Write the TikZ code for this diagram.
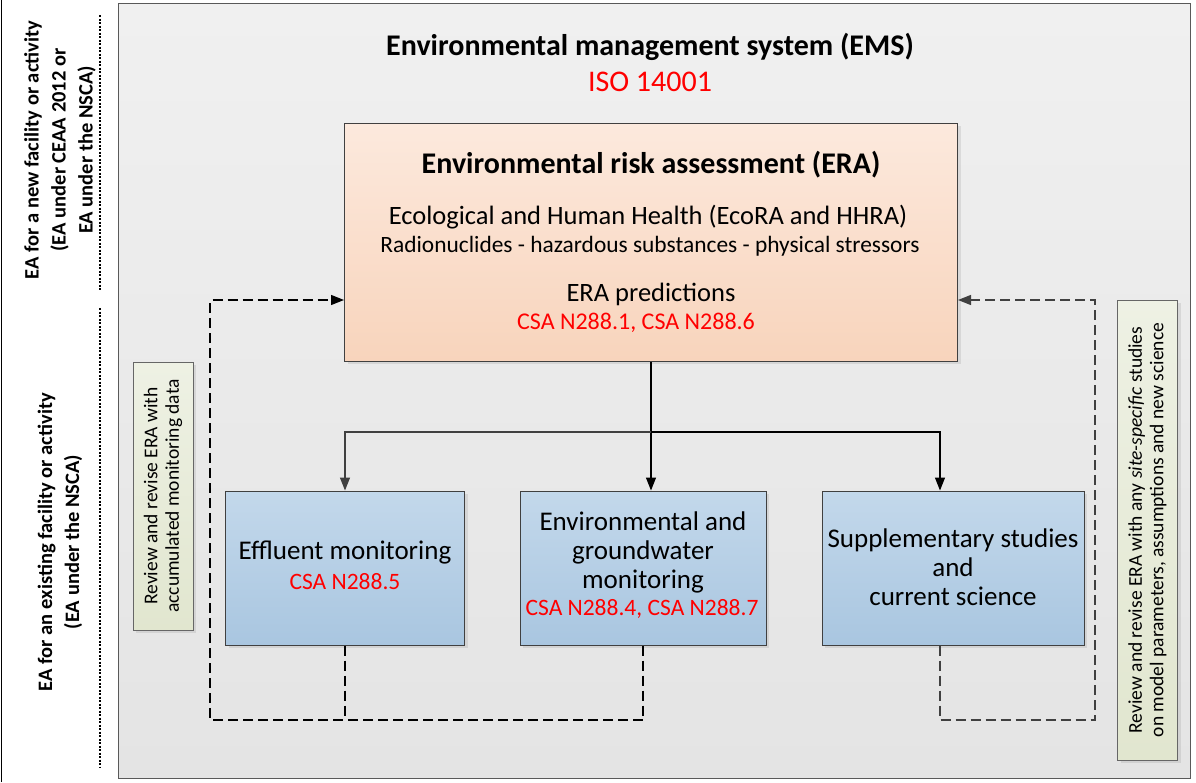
\documentclass[tikz,border=0pt]{standalone}
\usepackage{fontspec}
\setmainfont{Carlito}
\usetikzlibrary{arrows.meta,shadows}
\definecolor{paneltop}{HTML}{F0F0F0}
\definecolor{panelbot}{HTML}{E4E4E4}
\definecolor{eratop}{HTML}{FCE9DD}
\definecolor{erabot}{HTML}{F8D4BC}
\definecolor{montop}{HTML}{C3D8EB}
\definecolor{monbot}{HTML}{A9C6E0}
\definecolor{notetop}{HTML}{EEF1E4}
\definecolor{notebot}{HTML}{E1E6CF}
\definecolor{boxline}{HTML}{404040}
\definecolor{linegray}{HTML}{404040}
\newcommand{\arw}{-{Triangle[length=13pt,width=10pt]}}
\newcommand{\fs}[2]{\fontsize{#1}{#2}\selectfont}

\begin{document}
\begin{tikzpicture}[x=1pt,y=1pt,
  box/.style={draw=boxline,line width=1pt,inner sep=0pt},
  shade/.style={drop shadow={opacity=0.18,shadow xshift=3pt,shadow yshift=-3pt}},
  erabox/.style={box,shade,top color=eratop,bottom color=erabot,minimum width=613pt,minimum height=238pt},
  monbox/.style={box,shade,top color=montop,bottom color=monbot,minimum height=154pt},
  notebox/.style={box,draw=gray!80!black,shade,top color=notetop,bottom color=notebot,minimum width=60pt},
  sidelabel/.style={rotate=90,align=center,font=\bfseries\fs{20.5}{27}},
  notetext/.style={rotate=90,align=center,font=\fs{19.5}{21.5}},
  boxtext/.style={align=center,font=\fs{27}{29}},
  csa/.style={text=red,font=\fs{23.5}{28}},
  divider/.style={line width=1.5pt,dash pattern=on 2pt off 1.5pt},
  feedback/.style={line width=1.3pt,dash pattern=on 10pt off 5pt}]
\useasboundingbox (0,0) rectangle (1196,-782);
\draw[line width=1pt] (1.5,0) -- (1.5,-782);
\node[box,draw=gray!70!black,top color=paneltop,bottom color=panelbot,minimum width=1072pt,minimum height=775pt] (ems) at (654,-390.5) {};
%side labels
\draw[divider] (100,-15) -- (100,-290);
\draw[divider] (100,-308) -- (100,-768);
\node[sidelabel] (newea) at (60,-150) {EA for a new facility or activity\\(EA under CEAA 2012 or\\EA under the NSCA)};
\node[sidelabel] (oldea) at (60,-542) {EA for an existing facility or activity\\(EA under the NSCA)};
%titles
\node[font=\bfseries\fs{30}{34}] (emstitle) at (650,-47) {Environmental management system (EMS)};
\node[text=red,font=\fs{30}{34}] (iso) at (650,-82) {ISO 14001};
%risk assessment
\node[erabox] (era) at (651,-242) {};
\node[font=\bfseries\fs{30}{34}] (eratitle) at (651,-165) {Environmental risk assessment (ERA)};
\node[font=\fs{26.5}{30}] (health) at (648,-217) {Ecological and Human Health (EcoRA and HHRA)};
\node[font=\fs{23.4}{27}] (stress) at (650,-246) {Radionuclides - hazardous substances - physical stressors};
\node[font=\fs{26.5}{30}] (pred) at (651,-294) {ERA predictions};
\node[csa,font=\fs{24}{28}] (predcsa) at (636,-323) {CSA N288.1, CSA N288.6};
%monitoring
\node[monbox,minimum width=239pt] (eff) at (345,-568) {};
\node[monbox,minimum width=246pt] (env) at (643,-568) {};
\node[monbox,minimum width=262pt] (supp) at (953,-568) {};
\node[boxtext] (efftext) at (345,-553) {Effluent monitoring};
\node[csa] (effcsa) at (345,-582) {CSA N288.5};
\node[boxtext] (envtext) at (643,-552) {Environmental and\\groundwater\\monitoring};
\node[csa] (envcsa) at (642,-609) {CSA N288.4, CSA N288.7};
\node[boxtext] (supptext) at (953,-567) {Supplementary studies\\and\\current science};
%notes
\node[notebox,minimum height=268pt] (leftnote) at (163,-496) {};
\node[notetext] at (leftnote) {Review and revise ERA with\\accumulated monitoring data};
\node[notebox,minimum height=460pt] (rightnote) at (1147.5,-530) {};
\node[notetext] at (rightnote) {Review and revise ERA with any \textit{site-specific} studies\\on model parameters, assumptions and new science};
%arrows
\coordinate (split) at (era.south |- 0,-432);
\coordinate (suppin) at ([xshift=-13pt]supp.north);
\draw[line width=1.2pt] (era.south) -- (split);
\draw[line width=1.2pt,\arw] (split) -- (split |- env.north);
\draw[line width=1.2pt,linegray,\arw] (split) -| (eff.north);
\draw[line width=1.2pt,\arw] (split) -| (suppin);
%feedback
\coordinate (fbl) at (210,-720);
\coordinate (fbr) at (1095,-720);
\draw[feedback] (eff.south) -- (eff.south |- fbl);
\draw[feedback,\arw] (env.south) |- (fbl) |- ([yshift=-58pt]era.west);
\draw[feedback,linegray,\arw] ([xshift=-13pt]supp.south) |- (fbr) |- ([yshift=-58pt]era.east);
\end{tikzpicture}
\end{document}
